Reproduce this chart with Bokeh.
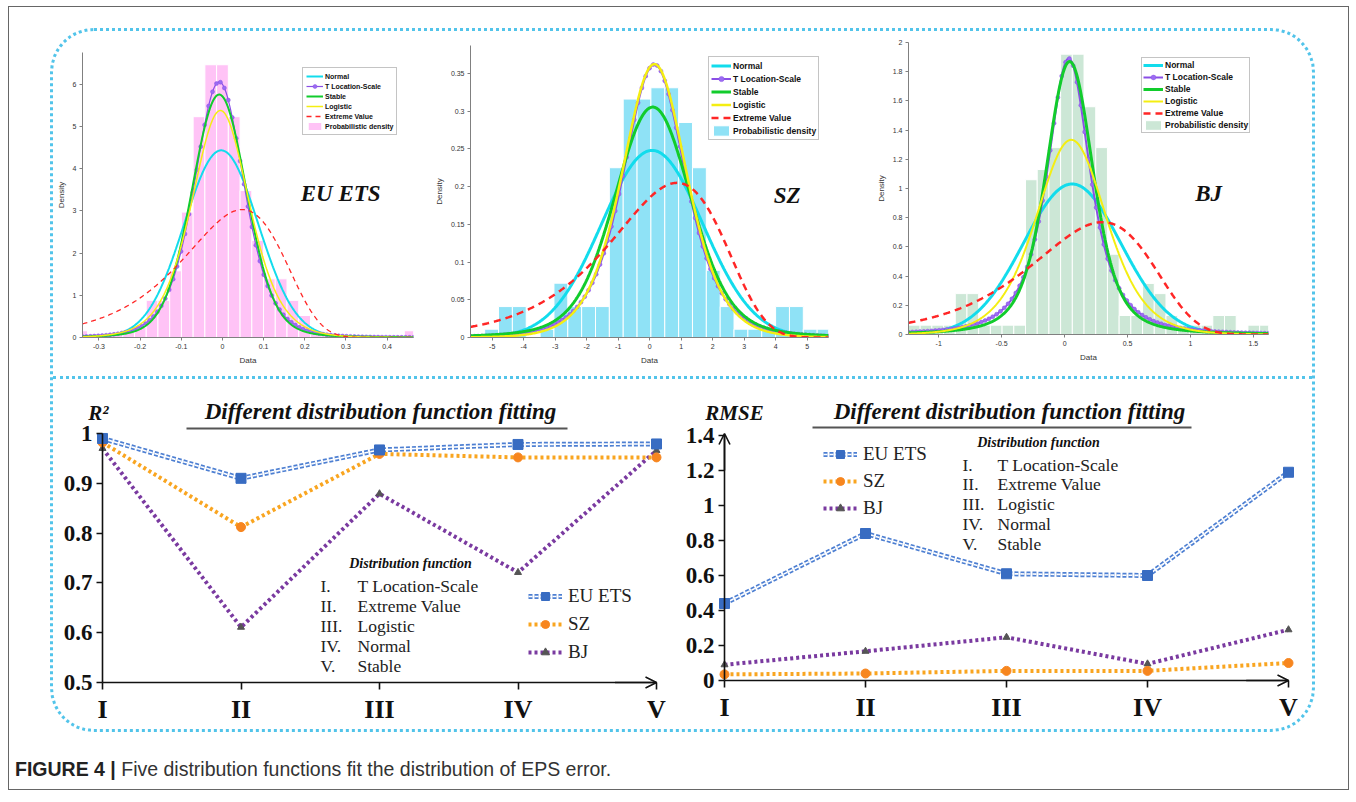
import math
import numpy as np
from bokeh.plotting import figure
from bokeh.models import (Range1d, Legend, LegendItem, Label, Arrow, OpenHead,
                          FixedTicker, NumeralTickFormatter, Div, Spacer, Plot)
from bokeh.layouts import row, column
from bokeh.embed import file_html
from bokeh.resources import INLINE

# ---------------------------------------------------------------- data
dist_names = ["Normal", "T Location-Scale", "Stable", "Logistic", "Extreme Value"]
hist_label = "Probabilistic density"

# EU ETS histogram (density)
eu_bin_width = 0.0285
eu_bin_centers = [-0.342, -0.3135, -0.285, -0.2565, -0.228, -0.1995, -0.171, -0.1425,
                  -0.114, -0.0855, -0.057, -0.0285, 0.0, 0.0285, 0.057, 0.0855, 0.114,
                  0.1425, 0.171, 0.1995, 0.228, 0.2565, 0.285, 0.3135, 0.342, 0.3705,
                  0.399, 0.4275, 0.456]
eu_bin_density = [0.16, 0.08, 0.08, 0.08, 0.12, 0.24, 0.88, 0.88, 1.58, 2.97, 5.23, 6.46,
                  6.46, 5.23, 3.48, 2.30, 1.39, 1.39, 0.88, 0.52, 0.16, 0.10, 0.05, 0.05,
                  0.05, 0.05, 0.05, 0.05, 0.16]

# SZ histogram (density)
sz_bin_width = 0.44
sz_bin_centers = [-5.46, -5.02, -4.58, -4.14, -3.70, -3.26, -2.82, -2.38, -1.94, -1.50,
                  -1.06, -0.62, -0.18, 0.26, 0.70, 1.14, 1.58, 2.02, 2.46, 2.90, 3.34,
                  3.78, 4.22, 4.66, 5.10, 5.54]
sz_bin_density = [0.0, 0.011, 0.041, 0.041, 0.0, 0.011, 0.072, 0.041, 0.041, 0.041,
                  0.225, 0.316, 0.316, 0.331, 0.331, 0.285, 0.225, 0.089, 0.041, 0.011,
                  0.011, 0.011, 0.041, 0.041, 0.011, 0.011]

# BJ histogram (density)
bj_bin_width = 0.093
bj_bin_centers = [-1.194, -1.101, -1.008, -0.915, -0.822, -0.729, -0.636, -0.543, -0.45,
                  -0.357, -0.264, -0.171, -0.078, 0.015, 0.108, 0.201, 0.294, 0.387, 0.48,
                  0.573, 0.666, 0.759, 0.852, 0.945, 1.038, 1.131, 1.224, 1.317, 1.41,
                  1.503, 1.596]
bj_bin_density = [0.064, 0.064, 0.064, 0.064, 0.28, 0.28, 0.064, 0.064, 0.064, 0.064,
                  1.06, 1.13, 1.28, 1.92, 1.92, 1.56, 1.28, 0.55, 0.13, 0.13, 0.35, 0.28,
                  0.13, 0.064, 0.064, 0.064, 0.13, 0.13, 0.0, 0.064, 0.064]

# fitted distribution parameters
eu_normal = [-0.003, 0.090]          # mu, sigma
eu_tls = [-0.008, 0.0627, 5]         # mu, sigma, nu
eu_stable = [1.8, 0.0492, -0.008]    # alpha, gamma, delta
eu_logistic = [-0.005, 0.0465]       # mu, s
eu_extreme = [0.048, 0.1214]         # mu, sigma

sz_normal = [0.08, 1.609]
sz_tls = [0.15, 1.036, 4]
sz_stable = [1.7, 0.93, 0.10]
sz_logistic = [0.15, 0.69]
sz_extreme = [0.87, 1.795]

bj_normal = [0.06, 0.387]
bj_tls = [0.033, 0.187, 2]
bj_stable = [1.5, 0.1537, 0.04]
bj_logistic = [0.053, 0.1875]
bj_extreme = [0.30, 0.478]

# goodness of fit
fit_roman = ["I", "II", "III", "IV", "V"]
fit_names = ["T Location-Scale", "Extreme Value", "Logistic", "Normal", "Stable"]
series_names = ["EU ETS", "SZ", "BJ"]
r2_eu = [0.990, 0.910, 0.967, 0.978, 0.979]
r2_sz = [0.982, 0.812, 0.959, 0.952, 0.952]
r2_bj = [0.970, 0.611, 0.879, 0.721, 0.966]
rmse_eu = [0.44, 0.84, 0.61, 0.60, 1.19]
rmse_sz = [0.035, 0.04, 0.055, 0.055, 0.10]
rmse_bj = [0.09, 0.167, 0.247, 0.095, 0.29]

# ---------------------------------------------------------------- pdfs
def normal_pdf(x, mu, s):
    return np.exp(-0.5 * ((x - mu) / s) ** 2) / (s * math.sqrt(2 * math.pi))

def t_pdf(x, mu, s, nu):
    z = (x - mu) / s
    c = math.exp(math.lgamma((nu + 1) / 2) - math.lgamma(nu / 2)) / (math.sqrt(nu * math.pi) * s)
    return c * (1 + z * z / nu) ** (-(nu + 1) / 2)

def stable_pdf(x, alpha, gam, delta):
    t = np.linspace(0, 14, 5001)
    z = (np.asarray(x) - delta) / gam
    integ = np.exp(-t[None, :] ** alpha) * np.cos(np.outer(z, t))
    return np.clip(np.trapezoid(integ, t, axis=1) / (math.pi * gam), 0, None)

def logistic_pdf(x, mu, s):
    e = np.exp(-(x - mu) / s)
    return e / (s * (1 + e) ** 2)

def extreme_pdf(x, mu, s):
    z = (x - mu) / s
    return np.exp(z - np.exp(z)) / s

C_NORMAL = "#12dcec"
C_T = "#8a4fe6"
C_STABLE = "#11cc2c"
C_LOG = "#f4ee12"
C_EV = "#ff2626"
SERIF = "Liberation Serif"
SANS = "Liberation Sans"
HAS_FRAME_ALIGN = "frame_align" in Plot.properties()


def base_fig(fw, fh, bl, br, bt, bb, xr, yr):
    p = figure(frame_width=fw, frame_height=fh, min_border_left=bl, min_border_right=br,
               min_border_top=bt, min_border_bottom=bb, x_range=Range1d(*xr),
               y_range=Range1d(*yr), output_backend="svg", toolbar_location=None,
               title=None, outline_line_color=None)
    if HAS_FRAME_ALIGN:
        p.frame_align = False
    p.border_fill_alpha = 0
    p.background_fill_alpha = 0
    p.grid.visible = False
    return p


def density_panel(centers, dens, bw, hcolor, pars, xr, yr, xticks, yticks, yfmt,
                  frame, border, lw, nmark, msize, leg, tag, tag_xy):
    fw, fh = frame
    bl, br, bt, bb = border
    p = base_fig(fw, fh, bl, br, bt, bb, xr, yr)
    x = np.linspace(xr[0], xr[1], 600)
    hb = p.vbar(x=centers, top=dens, width=bw, fill_color=hcolor, line_color="white",
                line_width=1)
    rn = p.line(x, normal_pdf(x, *pars[0]), line_color=C_NORMAL, line_width=lw[0])
    rt = p.line(x, t_pdf(x, *pars[1]), line_color=C_T, line_width=lw[1])
    xm = np.linspace(xr[0], xr[1], nmark)
    rtm = p.scatter(xm, t_pdf(xm, *pars[1]), marker="circle", size=msize,
                    fill_color="#9b6cf2", line_color=C_T, line_width=0.5)
    rs = p.line(x, stable_pdf(x, *pars[2]), line_color=C_STABLE, line_width=lw[2])
    rl = p.line(x, logistic_pdf(x, *pars[3]), line_color=C_LOG, line_width=lw[3])
    re = p.line(x, extreme_pdf(x, *pars[4]), line_color=C_EV, line_width=lw[4],
                line_dash=lw[5])
    items = [LegendItem(label=dist_names[0], renderers=[rn]),
             LegendItem(label=dist_names[1], renderers=[rt, rtm]),
             LegendItem(label=dist_names[2], renderers=[rs]),
             LegendItem(label=dist_names[3], renderers=[rl]),
             LegendItem(label=dist_names[4], renderers=[re]),
             LegendItem(label=hist_label, renderers=[hb])]
    lg = Legend(items=items, location=leg["loc"], label_text_font=SANS,
                label_text_font_style="bold", label_text_font_size=leg["fs"],
                label_text_color="#111111", glyph_width=leg["gw"], glyph_height=leg["gh"],
                label_height=leg["gh"], spacing=0, padding=leg["pad"], margin=0,
                label_standoff=2, border_line_color="#8a8a8a", border_line_width=1,
                background_fill_color="white", background_fill_alpha=1)
    p.add_layout(lg)
    for ax in (p.xaxis[0], p.yaxis[0]):
        ax.axis_line_color = "#808080"
        ax.major_tick_line_color = "#808080"
        ax.major_tick_out = 3
        ax.major_tick_in = 0
        ax.minor_tick_out = 0
        ax.minor_tick_in = 0
        ax.major_label_text_font = SANS
        ax.major_label_text_font_size = "7px"
        ax.major_label_text_color = "#333333"
        ax.major_label_standoff = 3
        ax.axis_label_text_font = SANS
        ax.axis_label_text_font_size = "8px"
        ax.axis_label_text_font_style = "normal"
        ax.axis_label_text_color = "#333333"
        ax.axis_label_standoff = 4
    p.xaxis.ticker = FixedTicker(ticks=xticks)
    p.yaxis.ticker = FixedTicker(ticks=yticks)
    p.xaxis.formatter = NumeralTickFormatter(format="0.[0]")
    p.yaxis.formatter = NumeralTickFormatter(format=yfmt)
    p.xaxis.axis_label = "Data"
    p.yaxis.axis_label = "Density"
    p.add_layout(Label(x=tag_xy[0], y=tag_xy[1], text=tag, text_font=SERIF,
                       text_font_size="23px", text_font_style="bold italic",
                       text_color="#111111", text_align="center", text_baseline="middle"))
    return p


pA = density_panel(eu_bin_centers, eu_bin_density, eu_bin_width, "#ffc3f6",
                   [eu_normal, eu_tls, eu_stable, eu_logistic, eu_extreme],
                   (-0.34, 0.464), (0, 6.75),
                   [-0.3, -0.2, -0.1, 0, 0.1, 0.2, 0.3, 0.4], [0, 1, 2, 3, 4, 5, 6], "0",
                   (331, 285), (29, 17, 21, 39), (2, 1.2, 2, 1.5, 1.3, "5 4"), 85, 4,
                   {"loc": (220, 202), "fs": "7px", "gw": 17, "gh": 10, "pad": 3},
                   "EU ETS", (0.287, 3.41))
pB = density_panel(sz_bin_centers, sz_bin_density, sz_bin_width, "#8fe2f6",
                   [sz_normal, sz_tls, sz_stable, sz_logistic, sz_extreme],
                   (-5.69, 5.68), (0, 0.387),
                   [-5, -4, -3, -2, -1, 0, 1, 2, 3, 4, 5],
                   [0, 0.05, 0.1, 0.15, 0.2, 0.25, 0.3, 0.35], "0.[00]",
                   (358, 292), (40, 32, 14, 39), (3, 2, 3, 2.5, 2.5, "7 5"), 95, 4,
                   {"loc": (238, 197), "fs": "8.5px", "gw": 20, "gh": 13, "pad": 2},
                   "SZ", (4.37, 0.188))
pC = density_panel(bj_bin_centers, bj_bin_density, bj_bin_width, "#cce7d6",
                   [bj_normal, bj_tls, bj_stable, bj_logistic, bj_extreme],
                   (-1.24, 1.62), (0, 2.0),
                   [-1, -0.5, 0, 0.5, 1, 1.5],
                   [0, 0.2, 0.4, 0.6, 0.8, 1, 1.2, 1.4, 1.6, 1.8, 2], "0.[0]",
                   (360, 292), (48, 44, 11, 42), (3, 2, 3, 2, 2.5, "7 5"), 95, 4,
                   {"loc": (233, 201), "fs": "8.5px", "gw": 20, "gh": 12, "pad": 1},
                   "BJ", (1.144, 0.966))

# ---------------------------------------------------------------- fit panels
C_EU = "#4d7fd2"
C_SZ = "#f9a520"
C_BJ = "#7a3aa0"
xs = list(range(1, len(fit_roman) + 1))


def fit_panel(vals, fig_box, frame_box, ybounds, yticks, ux, x0, uy, y0,
              ylabel, title_cx, ul, head_cx, head_y, num_x, name_x, name_y0, name_dy,
              leg_top, leg_left, leg_gap, yarrow):
    fx0, fy0, fx1, fy1 = fig_box          # figure extent (reference px)
    lx, ty, rx, by = frame_box            # frame extent (reference px)

    def dx(px):
        return 1 + (px - x0) / ux

    def dy(py):
        return ybounds[0] + (y0 - py) / uy

    p = base_fig(rx - lx, by - ty, lx - fx0, fx1 - rx, ty - fy0, fy1 - by,
                 (dx(lx), dx(rx)), (dy(by), dy(ty)))

    # BJ
    bj_l = p.line(xs, vals[2], line_color=C_BJ, line_width=4, line_dash="3 3")
    bj_m = p.scatter(xs, vals[2], marker="triangle", size=7, fill_color="#555555",
                     line_color="#555555")
    # SZ
    sz_l = p.line(xs, vals[1], line_color=C_SZ, line_width=4, line_dash="3 3")
    sz_m = p.scatter(xs, vals[1], marker="circle", size=9, fill_color="#f7861f",
                     line_color="#f7861f")
    # EU ETS (double dashed)
    eu_l1 = p.line(xs, vals[0], line_color=C_EU, line_width=5, line_dash="4 2")
    eu_l2 = p.line(xs, vals[0], line_color="white", line_width=1.6, line_dash="4 2")
    eu_m = p.scatter(xs, vals[0], marker="square", size=10, fill_color="#386cc2",
                     line_color="#386cc2")

    lg_h = 3 * 20 + 2 * leg_gap
    lg = Legend(items=[LegendItem(label=series_names[0], renderers=[eu_l1, eu_l2, eu_m]),
                       LegendItem(label=series_names[1], renderers=[sz_l, sz_m]),
                       LegendItem(label=series_names[2], renderers=[bj_l, bj_m])],
                location=(leg_left - lx, by - (leg_top + lg_h)),
                label_text_font=SERIF, label_text_font_size="19px",
                label_text_color="#222222", glyph_width=34, glyph_height=20,
                label_height=20, spacing=leg_gap, padding=0, margin=0, label_standoff=6,
                border_line_alpha=0, background_fill_alpha=0)
    p.add_layout(lg)

    ya = p.yaxis[0]
    ya.fixed_location = 1
    ya.bounds = (ybounds[0], ybounds[1])
    ya.ticker = FixedTicker(ticks=yticks)
    ya.formatter = NumeralTickFormatter(format="0.[0]")
    xa = p.xaxis[0]
    xa.fixed_location = ybounds[0]
    xa.bounds = (1, len(fit_roman))
    xa.ticker = FixedTicker(ticks=xs)
    xa.major_label_overrides = {i: r for i, r in zip(xs, fit_roman)}
    for ax in (xa, ya):
        ax.axis_line_color = "#111111"
        ax.axis_line_width = 1.6
        ax.major_tick_line_color = "#111111"
        ax.major_tick_line_width = 1.6
        ax.major_tick_in = 0
        ax.minor_tick_out = 0
        ax.minor_tick_in = 0
        ax.major_label_text_font = SERIF
        ax.major_label_text_font_style = "bold"
        ax.major_label_text_color = "#111111"
    ya.major_tick_out = 6
    ya.major_label_text_font_size = "23px"
    ya.major_label_standoff = 4
    xa.major_tick_out = 7
    xa.major_label_text_font_size = "26px"
    xa.major_label_standoff = 5

    p.add_layout(Arrow(end=OpenHead(size=11, line_width=1.6, line_color="#111111"),
                       x_start=len(fit_roman) - 0.3, y_start=ybounds[0],
                       x_end=len(fit_roman), y_end=ybounds[0],
                       line_color="#111111", line_width=1.6))
    if yarrow:
        p.add_layout(Arrow(end=OpenHead(size=11, line_width=1.6, line_color="#111111"),
                           x_start=1, y_start=ybounds[1] - 0.2, x_end=1,
                           y_end=ybounds[1] + 2 / uy,
                           line_color="#111111", line_width=1.6))

    p.add_layout(Label(x=dx(ylabel[1]), y=dy(412), text=ylabel[0], text_font=SERIF,
                       text_font_size="21px", text_font_style="bold italic",
                       text_color="#111111", text_align="center", text_baseline="middle"))
    p.add_layout(Label(x=dx(title_cx), y=dy(411), text="Different distribution function fitting",
                       text_font=SERIF, text_font_size="23px", text_font_style="bold italic",
                       text_color="#111111", text_align="center", text_baseline="middle"))
    p.add_layout(Arrow(end=None, x_start=dx(ul[0]), y_start=dy(ul[2]), x_end=dx(ul[1]),
                       y_end=dy(ul[2]), line_color="#555555", line_width=1.8))
    p.add_layout(Label(x=dx(head_cx), y=dy(head_y), text="Distribution function",
                       text_font=SERIF, text_font_size="14px", text_font_style="bold italic",
                       text_color="#111111", text_align="center", text_baseline="middle"))
    for i, (rn, nm) in enumerate(zip(fit_roman, fit_names)):
        yy = dy(name_y0 + i * name_dy)
        p.add_layout(Label(x=dx(num_x), y=yy, text=rn + ".", text_font=SERIF,
                           text_font_size="17.5px", text_color="#222222",
                           text_align="left", text_baseline="middle"))
        p.add_layout(Label(x=dx(name_x), y=yy, text=nm, text_font=SERIF,
                           text_font_size="17.5px", text_color="#222222",
                           text_align="left", text_baseline="middle"))
    return p


pD = fit_panel([r2_eu, r2_sz, r2_bj], (53, 379, 675, 729), (55, 395, 666, 729),
               (0.5, 1.0), [0.5, 0.6, 0.7, 0.8, 0.9, 1.0], 138.5, 102, 498, 682,
               ("R²", 98), 380, (186, 567, 428), 410, 563, 320, 357, 585, 20,
               591, 528, 6, False)
pE = fit_panel([rmse_eu, rmse_sz, rmse_bj], (675, 379, 1312, 729), (678, 395, 1298, 729),
               (0, 1.4), [0, 0.2, 0.4, 0.6, 0.8, 1.0, 1.2, 1.4], 141, 724, 175, 680,
               ("RMSE", 734), 1009, (812, 1191, 427), 1038, 442, 962, 997, 464, 19.75,
               449, 823, 5, True)

DOT = "3px dotted #52c4ea"
top_row = row(pA, pB, pC)
divider = Div(text="", width=1259, height=3, margin=0,
              styles={"border-top": DOT, "box-sizing": "border-box"})
bottom_row = row(pD, pE)
box = column(top_row, divider, bottom_row, width=1265, height=704,
             styles={"border": DOT, "border-radius": "44px", "background": "white",
                     "box-sizing": "border-box"})

caption = Div(text='<span style="font-weight:bold;color:#222">FIGURE 4 |</span> '
                   'Five distribution functions fit the distribution of EPS error.',
              width=1333, height=22, margin=0,
              styles={"font-family": SANS, "font-size": "19.5px", "color": "#333333",
                      "line-height": "22px"})

framed = column(Spacer(height=21),
                row(Spacer(width=41), box),
                Spacer(height=26),
                row(Spacer(width=6), caption),
                Spacer(height=9),
                styles={"border": "1px solid #666666", "background": "white"})
root = column(Spacer(height=6), row(Spacer(width=8), framed))

open("out.html", "w").write(file_html(root, INLINE, title="Figure 4"))
